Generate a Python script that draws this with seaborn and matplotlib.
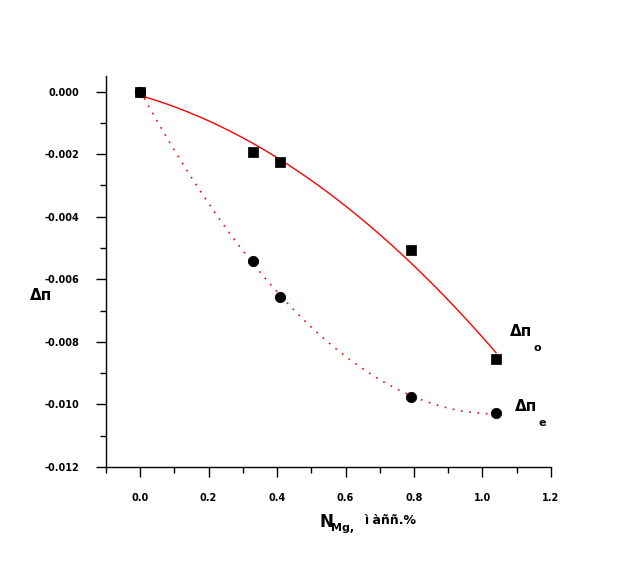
import numpy as np
import pandas as pd
import matplotlib
matplotlib.use('Agg')
import matplotlib.pyplot as plt
import seaborn as sns
from matplotlib.ticker import MultipleLocator

n_mg = [0.0, 0.33, 0.41, 0.79, 1.04]
dn_o = [0.0, -0.00194, -0.00224, -0.00506, -0.00855]
dn_e = [0.0, -0.00543, -0.00656, -0.00975, -0.01028]

df = pd.DataFrame({'N': n_mg, 'dn_o': dn_o, 'dn_e': dn_e})

sns.set_theme(style="ticks", rc={'text.color': 'black', 'axes.labelcolor': 'black',
                                 'xtick.color': 'black', 'ytick.color': 'black',
                                 'axes.edgecolor': 'black'})
plt.rcParams['font.family'] = ['DejaVu Sans']

fig = plt.figure(figsize=(6.34, 5.62), dpi=100)
ax = fig.add_axes([0.167, 0.169, 0.702, 0.696])

# quadratic fits through the measured points
xs = np.linspace(0, 1.04, 200)
fit_o = np.polyval(np.polyfit(df['N'], df['dn_o'], 2), xs)
fit_e = np.polyval(np.polyfit(df['N'], df['dn_e'], 2), xs)
sns.lineplot(x=xs, y=fit_o, ax=ax, color='red', lw=1.0)
ax.plot(xs, fit_e, color='red', lw=1.2, linestyle=(0, (1, 4)))

sns.scatterplot(data=df, x='N', y='dn_o', ax=ax, marker='s', s=42, color='black', edgecolor='black', zorder=5)
sns.scatterplot(data=df, x='N', y='dn_e', ax=ax, marker='o', s=55, color='black', edgecolor='black', zorder=5)

ax.set_xlim(-0.1, 1.2)
ax.set_ylim(-0.012, 0.0005)
ax.xaxis.set_minor_locator(MultipleLocator(0.1))
ax.yaxis.set_minor_locator(MultipleLocator(0.001))
ax.set_xticks([0.0, 0.2, 0.4, 0.6, 0.8, 1.0, 1.2])
ax.set_xticklabels(['0.0', '0.2', '0.4', '0.6', '0.8', '1.0', '1.2'])
ax.set_yticks([-0.012, -0.010, -0.008, -0.006, -0.004, -0.002, 0.0])
ax.set_yticklabels(['-0.012', '-0.010', '-0.008', '-0.006', '-0.004', '-0.002', '0.000'])
ax.tick_params(axis='both', which='major', length=7, width=1, labelsize=7, direction='out', pad=12)
ax.tick_params(axis='both', which='minor', length=4, width=1, direction='out')
for lab in ax.get_xticklabels() + ax.get_yticklabels():
    lab.set_fontweight('bold')

sns.despine(ax=ax)
for sp in ['left', 'bottom']:
    ax.spines[sp].set_linewidth(1.0)

ax.set_xlabel('')
ax.set_ylabel('')
fig.text(0.065, 0.475, 'Δп', fontsize=11, fontweight='bold', ha='center', va='center')
fig.text(0.515, 0.072, r'N', fontsize=12, fontweight='bold', ha='center', va='center')
fig.text(0.54, 0.060, 'Mg,', fontsize=8, fontweight='bold', ha='center', va='center')
fig.text(0.615, 0.074, 'ì àññ.%', fontsize=9, fontweight='bold', ha='center', va='center')

ax.text(1.08, -0.0078, 'Δп', fontsize=11, fontweight='bold')
ax.text(1.15, -0.0083, 'o', fontsize=8, fontweight='bold')
ax.text(1.095, -0.0102, 'Δп', fontsize=11, fontweight='bold')
ax.text(1.165, -0.0107, 'e', fontsize=8, fontweight='bold')

fig.savefig('out.png', dpi=100)
plt.close()
